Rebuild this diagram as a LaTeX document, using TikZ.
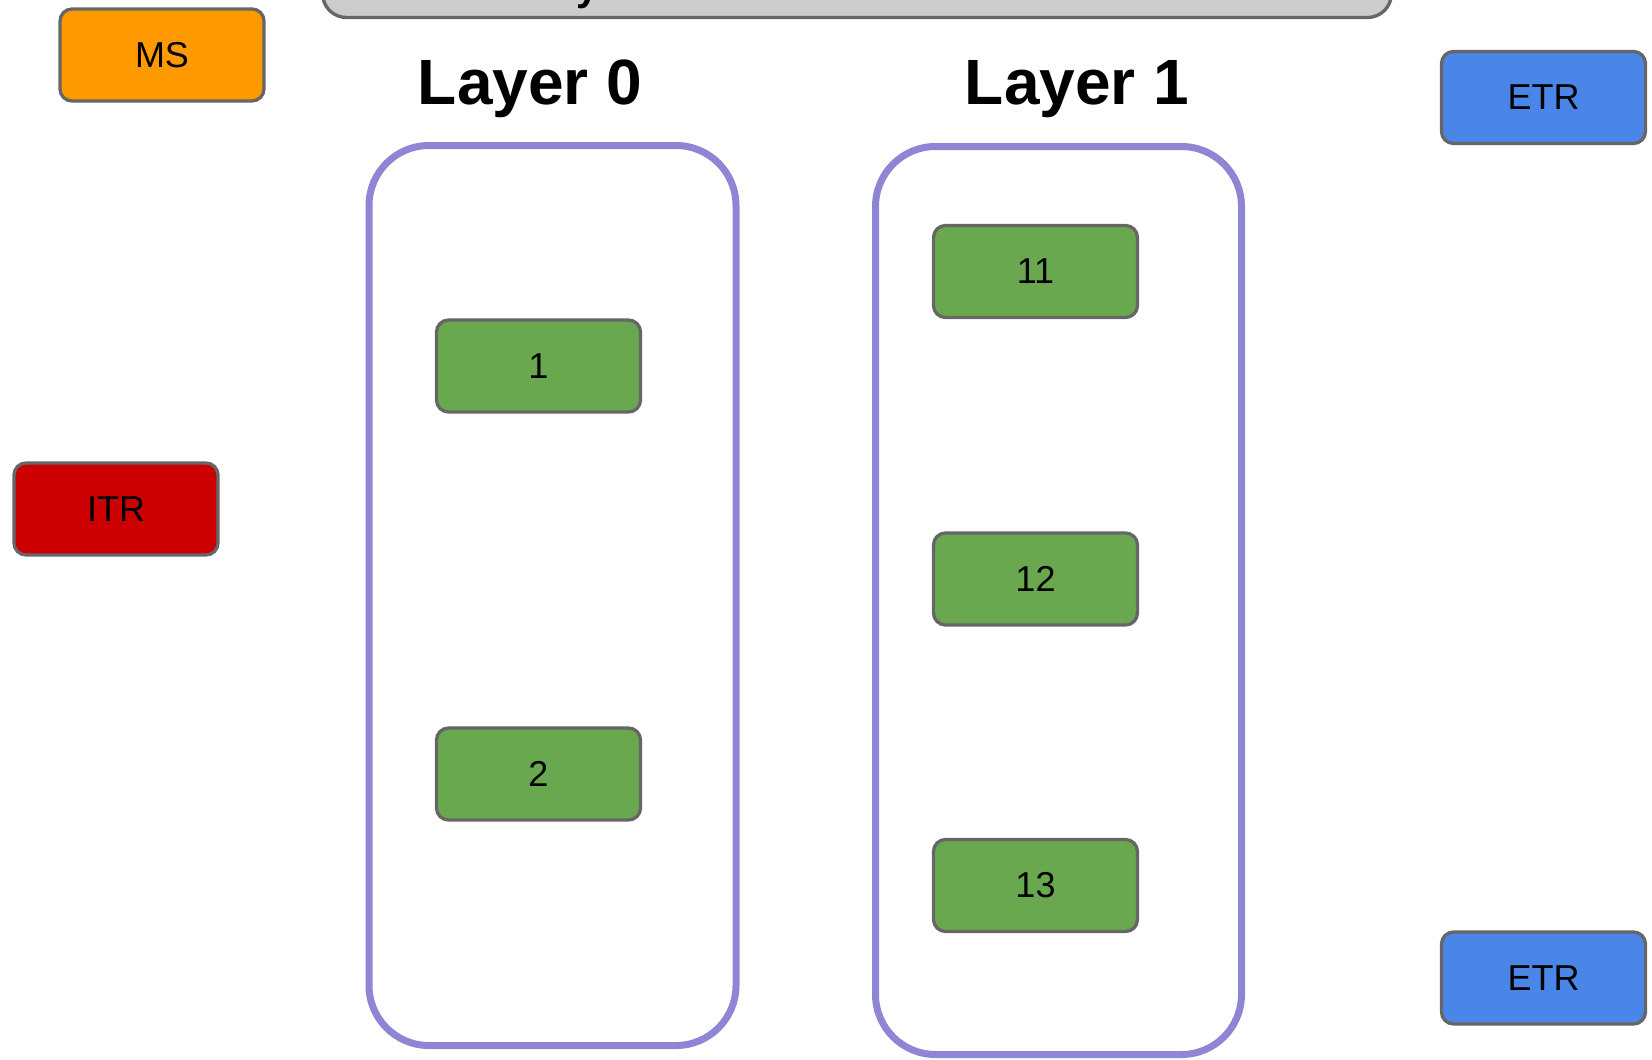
\documentclass[tikz,border=0pt]{standalone}
\usepackage{fontspec}
\setmainfont{Liberation Sans}
\definecolor{edgegray}{HTML}{666666}
\definecolor{bargray}{HTML}{CCCCCC}
\definecolor{msorange}{HTML}{FF9900}
\definecolor{etrblue}{HTML}{4A86E8}
\definecolor{itrred}{HTML}{CC0000}
\definecolor{nodegreen}{HTML}{6AA84F}
\definecolor{layerpurple}{HTML}{8E86D4}
\begin{document}
\begin{tikzpicture}[x=1pt,y=-1pt,
  box/.style={draw=edgegray, line width=3.3pt, rounded corners=12pt,
    minimum width=204pt, minimum height=92pt, inner sep=0pt,
    font=\fontsize{36}{40}\selectfont},
  greenbox/.style={box, fill=nodegreen},
  layerbox/.style={draw=layerpurple, line width=7pt, rounded corners=60pt,
    inner sep=0pt},
  title/.style={anchor=base, inner sep=0pt,
    font=\fontsize{64}{68}\selectfont\bfseries}]
\clip (0,0) rectangle (1652,1060);
\useasboundingbox (0,0) rectangle (1652,1060);

% header bar, mostly above the top edge
\draw[draw=edgegray, fill=bargray, line width=3.3pt, rounded corners=24pt]
  (322.5,-60) rectangle (1391.5,17.5);
\node[anchor=base, inner sep=0pt, font=\fontsize{40}{44}\selectfont\bfseries]
  (barletter) at (588,0) {y};

% layer containers
\node[layerbox, minimum width=367pt, minimum height=900pt] (layer0) at (552.5,595.5) {};
\node[layerbox, minimum width=366pt, minimum height=908pt] (layer1) at (1058.5,600.5) {};
\node[title] (t0) at (530,104) {Layer 0};
\node[title] (t1) at (1077,104) {Layer 1};

% routers
\node[box, fill=msorange] (ms) at (162,55) {MS};
\node[box, fill=itrred] (itr) at (116,509) {ITR};
\node[box, fill=etrblue] (etr1) at (1543.5,97.5) {ETR};
\node[box, fill=etrblue] (etr2) at (1543.5,978) {ETR};

% layer members
\node[greenbox] (n1) at (538.5,366) {1};
\node[greenbox] (n2) at (538.5,774) {2};
\node[greenbox] (n11) at (1035.5,271.5) {11};
\node[greenbox] (n12) at (1035.5,579) {12};
\node[greenbox] (n13) at (1035.5,885.5) {13};
\end{tikzpicture}
\end{document}
